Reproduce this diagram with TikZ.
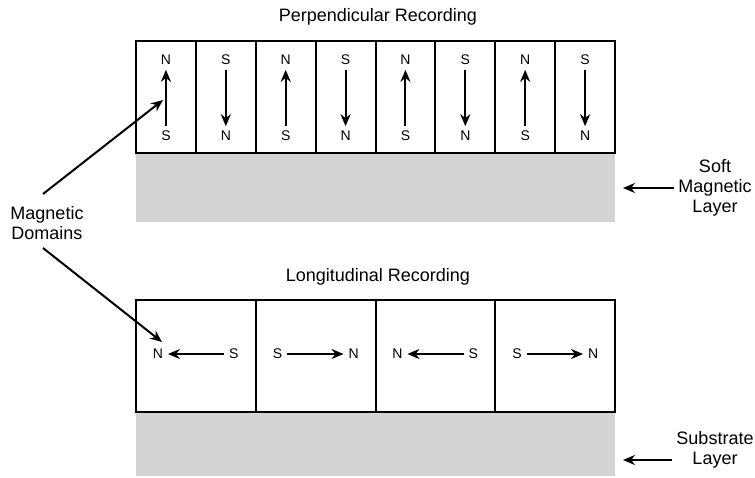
\documentclass[tikz,border=0pt]{standalone}
\usepackage{fontspec}
\setmainfont{Liberation Sans}
\usetikzlibrary{positioning, arrows.meta, calc, backgrounds}
\definecolor{layergray}{RGB}{211,211,211}

\begin{document}
\begin{tikzpicture}[
    x=0.5pt, y=-0.5pt,
    node distance=0pt,
    cell/.style={rectangle, draw=black, line width=1pt, minimum height=56pt, inner sep=0pt, outer sep=0pt},
    pcell/.style={cell, minimum width=29.9375pt},
    lcell/.style={cell, minimum width=59.875pt},
    layer/.style={rectangle, fill=layergray, minimum width=239.5pt, inner sep=0pt, outer sep=0pt, anchor=north west},
    pole/.style={font=\fontsize{7}{8}\selectfont, inner sep=2.3pt},
    caption/.style={font=\fontsize{9}{10}\selectfont, align=center, inner sep=2pt},
    magnet/.style={-{Stealth[length=6pt, width=5pt]}, line width=1pt},
    pointer/.style={-{Stealth[length=6pt, width=5pt]}, line width=1pt}
]
\useasboundingbox (0,0) rectangle (755,477);

% perpendicular recording
\node[caption] (ptitle) at (378,17) {Perpendicular Recording};
\node[pcell] (c1) at (165.94,97) {};
\node[pcell, right=of c1] (c2) {};
\node[pcell, right=of c2] (c3) {};
\node[pcell, right=of c3] (c4) {};
\node[pcell, right=of c4] (c5) {};
\node[pcell, right=of c5] (c6) {};
\node[pcell, right=of c6] (c7) {};
\node[pcell, right=of c7] (c8) {};

\node[pole] (pn1) at ($(c1)+(0,-37)$) {N};
\node[pole] (ps1) at ($(c1)+(0,39)$) {S};
\node[pole] (ps2) at ($(c2)+(0,-37)$) {S};
\node[pole] (pn2) at ($(c2)+(0,39)$) {N};
\node[pole] (pn3) at ($(c3)+(0,-37)$) {N};
\node[pole] (ps3) at ($(c3)+(0,39)$) {S};
\node[pole] (ps4) at ($(c4)+(0,-37)$) {S};
\node[pole] (pn4) at ($(c4)+(0,39)$) {N};
\node[pole] (pn5) at ($(c5)+(0,-37)$) {N};
\node[pole] (ps5) at ($(c5)+(0,39)$) {S};
\node[pole] (ps6) at ($(c6)+(0,-37)$) {S};
\node[pole] (pn6) at ($(c6)+(0,39)$) {N};
\node[pole] (pn7) at ($(c7)+(0,-37)$) {N};
\node[pole] (ps7) at ($(c7)+(0,39)$) {S};
\node[pole] (ps8) at ($(c8)+(0,-37)$) {S};
\node[pole] (pn8) at ($(c8)+(0,39)$) {N};

\draw[magnet] (ps1) -- (pn1);
\draw[magnet] (ps2) -- (pn2);
\draw[magnet] (ps3) -- (pn3);
\draw[magnet] (ps4) -- (pn4);
\draw[magnet] (ps5) -- (pn5);
\draw[magnet] (ps6) -- (pn6);
\draw[magnet] (ps7) -- (pn7);
\draw[magnet] (ps8) -- (pn8);

% longitudinal recording
\node[caption] (ltitle) at (378,277) {Longitudinal Recording};
\node[lcell] (l1) at (195.88,356) {};
\node[lcell, right=of l1] (l2) {};
\node[lcell, right=of l2] (l3) {};
\node[lcell, right=of l3] (l4) {};

\node[pole] (ln1) at ($(l1)+(-38,-2)$) {N};
\node[pole] (ls1) at ($(l1)+(38,-2)$) {S};
\node[pole] (ls2) at ($(l2)+(-38,-2)$) {S};
\node[pole] (ln2) at ($(l2)+(38,-2)$) {N};
\node[pole] (ln3) at ($(l3)+(-38,-2)$) {N};
\node[pole] (ls3) at ($(l3)+(38,-2)$) {S};
\node[pole] (ls4) at ($(l4)+(-38,-2)$) {S};
\node[pole] (ln4) at ($(l4)+(38,-2)$) {N};

\draw[magnet] (ls1) -- (ln1);
\draw[magnet] (ls2) -- (ln2);
\draw[magnet] (ls3) -- (ln3);
\draw[magnet] (ls4) -- (ln4);

\begin{scope}[on background layer]
\node[layer, minimum height=34.5pt] (soft) at (c1.south west) {};
\node[layer, minimum height=32pt] (substrate) at (l1.south west) {};
\end{scope}

% labels
\node[caption] (softlbl) at (715,188) {Soft\\Magnetic\\Layer};
\coordinate (softtip) at (623,188);
\draw[pointer] (softlbl) -- (softtip);

\node[caption] (sublbl) at (715,450) {Substrate\\Layer};
\coordinate (subtip) at (623,460);
\draw[pointer] (sublbl.west |- subtip) -- (subtip);

\node[caption] (domains) at (47,223) {Magnetic\\Domains};
\coordinate (uptip) at (163,100);
\coordinate (downtip) at (162,342);
\draw[pointer] ([xshift=-2pt,yshift=4pt]domains.north) -- (uptip);
\draw[pointer] ([xshift=-2pt,yshift=-2pt]domains.south) -- (downtip);
\end{tikzpicture}
\end{document}
